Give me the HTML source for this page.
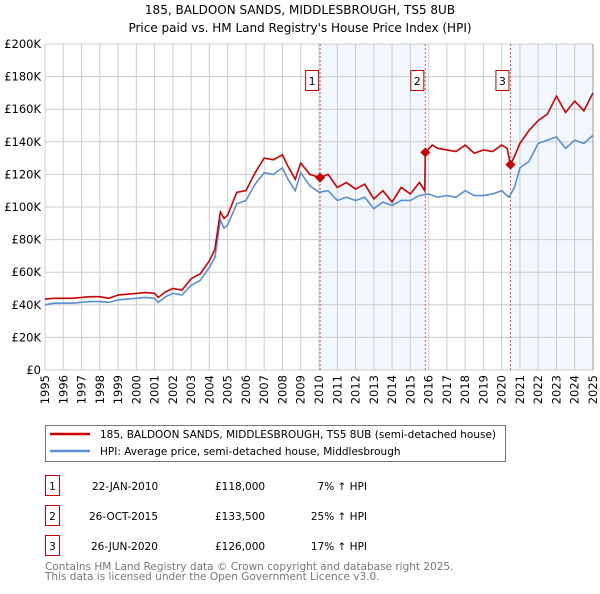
<!DOCTYPE html>
<html><head><meta charset="utf-8"><style>
body{margin:0;background:#fff;font-family:"DejaVu Sans","Liberation Sans",sans-serif;}
svg text{font-family:"DejaVu Sans","Liberation Sans",sans-serif;}
</style></head><body>
<svg id="c" width="600" height="590" xmlns="http://www.w3.org/2000/svg">
<text x="300" y="14" text-anchor="middle" font-size="12" fill="#000">185, BALDOON SANDS, MIDDLESBROUGH, TS5 8UB</text>
<text x="300" y="32" text-anchor="middle" font-size="12" fill="#000">Price paid vs. HM Land Registry's House Price Index (HPI)</text>
<g id="plot"></g>
<g>
<rect x="45.5" y="425.5" width="460" height="36" fill="#fff" stroke="#777"/>
<line x1="50" y1="434" x2="90" y2="434" stroke="#cc0000" stroke-width="2.5"/>
<text x="100" y="438" font-size="10.5">185, BALDOON SANDS, MIDDLESBROUGH, TS5 8UB (semi-detached house)</text>
<line x1="50" y1="451" x2="90" y2="451" stroke="#5b8fd4" stroke-width="2.5"/>
<text x="100" y="455" font-size="10.5">HPI: Average price, semi-detached house, Middlesbrough</text>
</g>
<g font-size="10.5">
<rect x="45.5" y="475.5" width="14" height="20" fill="#fff" stroke="#cc0000"/><text x="52.5" y="490" text-anchor="middle">1</text>
<text x="92" y="490">22-JAN-2010</text><text x="215" y="490">£118,000</text><text x="367" y="490" text-anchor="end">7% ↑ HPI</text>
<rect x="45.5" y="505.5" width="14" height="20" fill="#fff" stroke="#cc0000"/><text x="52.5" y="520" text-anchor="middle">2</text>
<text x="89" y="520">26-OCT-2015</text><text x="215" y="520">£133,500</text><text x="367" y="520" text-anchor="end">25% ↑ HPI</text>
<rect x="45.5" y="535.5" width="14" height="20" fill="#fff" stroke="#cc0000"/><text x="52.5" y="550" text-anchor="middle">3</text>
<text x="91" y="550">26-JUN-2020</text><text x="215" y="550">£126,000</text><text x="367" y="550" text-anchor="end">17% ↑ HPI</text>
</g>
<text x="45" y="570" font-size="10.5" fill="#777">Contains HM Land Registry data © Crown copyright and database right 2025.</text>
<text x="45" y="580" font-size="10.5" fill="#777">This data is licensed under the Open Government Licence v3.0.</text>
</svg>
<script>
const hpiDates=[1995,1995.5,1996,1996.5,1997,1997.5,1998,1998.5,1999,1999.5,2000,2000.5,2001,2001.2,2001.6,2002,2002.5,2003,2003.5,2004,2004.3,2004.6,2004.8,2005,2005.5,2006,2006.5,2007,2007.5,2008,2008.3,2008.7,2009,2009.5,2010,2010.5,2011,2011.5,2012,2012.5,2013,2013.5,2014,2014.5,2015,2015.5,2016,2016.5,2017,2017.5,2018,2018.5,2019,2019.5,2020,2020.4,2020.7,2021,2021.5,2022,2022.5,2023,2023.5,2024,2024.5,2025];
const hpiValues=[40,41,41,41,41.5,42,42,41.5,43,43.5,44,44.5,44,41.5,45,47,46,52,55,63,69,92,87,89,102,104,114,121,120,124,117,110,121,113,109,110,104,106,104,106,99,103,101,104,104,107,108,106,107,106,110,107,107,108,110,106,112,124,128,139,141,143,136,141,139,144];
const priceDates=[1995,1995.5,1996,1996.5,1997,1997.5,1998,1998.5,1999,1999.5,2000,2000.5,2001,2001.2,2001.6,2002,2002.5,2003,2003.5,2004,2004.3,2004.6,2004.8,2005,2005.5,2006,2006.5,2007,2007.5,2008,2008.3,2008.7,2009,2009.5,2010.06,2010.5,2011,2011.5,2012,2012.5,2013,2013.5,2014,2014.5,2015,2015.5,2015.79,2015.82,2016.2,2016.5,2017,2017.5,2018,2018.5,2019,2019.5,2020,2020.3,2020.48,2020.7,2021,2021.5,2022,2022.5,2023,2023.5,2024,2024.5,2025];
const priceValues=[43.5,44,44,44,44.5,45,45,44,46,46.5,47,47.5,47,44.5,48,50,49,56,59,67,74,97,93,95,109,110,121,130,129,132,125,117,127,120,118,120,112,115,111,114,105,110,103,112,108,115,110,133.5,138,136,135,134,138,133,135,134,138,136,126,131,139,147,153,157,168,158,165,159,170];
const sales=[{d:2010.06,v:118,n:"1"},{d:2015.82,v:133.5,n:"2"},{d:2020.48,v:126,n:"3"}];
const yTicks=[0,20,40,60,80,100,120,140,160,180,200];
const yLabels=["£0","£20K","£40K","£60K","£80K","£100K","£120K","£140K","£160K","£180K","£200K"];
const xTicks=[1995,1996,1997,1998,1999,2000,2001,2002,2003,2004,2005,2006,2007,2008,2009,2010,2011,2012,2013,2014,2015,2016,2017,2018,2019,2020,2021,2022,2023,2024,2025];

const L=45,R=593,T=44,B=370,NS="http://www.w3.org/2000/svg";
const X=d=>L+(d-1995)/30*(R-L);
const Y=v=>B-v/200*(B-T);
const g=document.getElementById('plot');
function el(t,a,p){const e=document.createElementNS(NS,t);for(const k in a)e.setAttribute(k,a[k]);(p||g).appendChild(e);return e;}
// shading
let s1=el('rect',{x:X(sales[0].d),y:T,width:X(sales[1].d)-X(sales[0].d),height:B-T,fill:'#eef3fc',opacity:0.75});


let s2=el('rect',{x:X(sales[2].d),y:T,width:R-X(sales[2].d),height:B-T,fill:'#eef3fc',opacity:0.75});


// grid
yTicks.forEach((v,i)=>{
  el('line',{x1:L,x2:R,y1:Y(v),y2:Y(v),stroke:'#ccc','stroke-width':1});
  const t=el('text',{x:L-4,y:Y(v)+4,'text-anchor':'end','font-size':11.5});
  t.textContent=yLabels[i];
  
  
});
xTicks.forEach(d=>{
  el('line',{x1:X(d),x2:X(d),y1:T,y2:B,stroke:'#ccc','stroke-width':1});
  const t=el('text',{x:0,y:0,'font-size':11.5,'text-anchor':'end',transform:`translate(${X(d)+4},${B+5}) rotate(-90)`});
  t.textContent=d;
  
  
});
el('line',{x1:R,x2:R,y1:T,y2:B,stroke:'#999'});
// sale lines
sales.forEach(s=>{
  el('line',{x1:X(s.d),x2:X(s.d),y1:T,y2:B,stroke:'#e05555','stroke-dasharray':'2,2','stroke-width':1});
});
// series
let hp=el('polyline',{points:hpiDates.map((d,i)=>X(d)+','+Y(hpiValues[i])).join(' '),fill:'none',stroke:'#5b8fd4','stroke-width':1.6});


let pp=el('polyline',{points:priceDates.map((d,i)=>X(d)+','+Y(priceValues[i])).join(' '),fill:'none',stroke:'#cc0000','stroke-width':1.6});


sales.forEach(s=>{
  const x=X(s.d),y=Y(s.v);
  const m=el('polygon',{points:`${x},${y-5} ${x+5},${y} ${x},${y+5} ${x-5},${y}`,fill:'#cc0000'});
  
  
  const b=el('rect',{x:x-14.5,y:70.5,width:13,height:20,fill:'#fff',stroke:'#cc0000'});
  
  
  const t=el('text',{x:x-8,y:85,'text-anchor':'middle','font-size':11});
  t.textContent=s.n;
  
  
});
</script>
</body></html>
